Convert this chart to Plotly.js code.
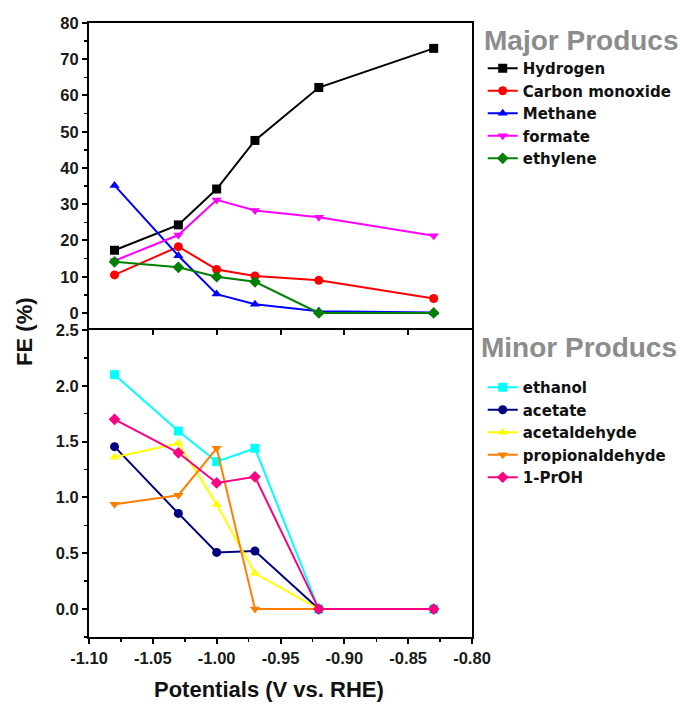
<!DOCTYPE html>
<html><head><meta charset="utf-8">
<script src="https://cdn.plot.ly/plotly-3.0.1.min.js"></script>
<style>body{margin:0;background:#fff}#chart{width:680px;height:706px}</style>
</head><body><div id="chart"></div>
<script>
const potentials = [-1.08, -1.03, -1.00, -0.97, -0.92, -0.83];

const majorNames = ['Hydrogen', 'Carbon monoxide', 'Methane', 'formate', 'ethylene'];
const hydrogen = [17.3, 24.3, 34.2, 47.6, 62.2, 73.0];
const carbonMonoxide = [10.5, 18.3, 12.0, 10.2, 9.0, 4.0];
const methane = [35.2, 15.8, 5.2, 2.4, 0.5, 0.1];
const formate = [14.4, 21.5, 31.2, 28.3, 26.4, 21.3];
const ethylene = [14.1, 12.6, 10.0, 8.6, 0.0, 0.0];

const minorNames = ['ethanol', 'acetate', 'acetaldehyde', 'propionaldehyde', '1-PrOH'];
const ethanol = [2.10, 1.595, 1.32, 1.44, 0, 0];
const acetate = [1.455, 0.857, 0.508, 0.52, 0, 0];
const acetaldehyde = [1.36, 1.485, 0.938, 0.32, 0, 0];
const propionaldehyde = [0.94, 1.02, 1.44, 0, 0, 0];
const propanol = [1.70, 1.40, 1.13, 1.185, 0, 0];

const xTickVals = [-1.10, -1.05, -1.00, -0.95, -0.90, -0.85, -0.80];
const xTickText = ['-1.10', '-1.05', '-1.00', '-0.95', '-0.90', '-0.85', '-0.80'];
const majorTickVals = [0, 10, 20, 30, 40, 50, 60, 70, 80];
const minorTickVals = [0, 0.5, 1.0, 1.5, 2.0, 2.5];

const FONT = 'Liberation Sans, Arial, sans-serif';
const LEGFONT = 'DejaVu Sans, Liberation Sans, sans-serif';
const majorSeries = [hydrogen, carbonMonoxide, methane, formate, ethylene];
const majorColors = ['#000000', '#ff0000', '#0000ff', '#ff00ff', '#008000'];
const majorSymbols = ['square', 'circle', 'triangle-up', 'triangle-down', 'diamond'];
const minorSeries = [ethanol, acetate, acetaldehyde, propionaldehyde, propanol];
const minorColors = ['#00ffff', '#000080', '#ffff00', '#ff8000', '#ff0080'];
const minorSymbols = ['square', 'circle', 'triangle-up', 'triangle-down', 'diamond'];

const traces = [];
majorSeries.forEach((s, i) => traces.push({
  x: potentials, y: s, name: majorNames[i], type: 'scatter', mode: 'lines+markers',
  xaxis: 'x', yaxis: 'y', legend: 'legend',
  line: {color: majorColors[i], width: 2},
  marker: {color: majorColors[i], symbol: majorSymbols[i], size: 9}
}));
minorSeries.forEach((s, i) => traces.push({
  x: potentials, y: s, name: minorNames[i], type: 'scatter', mode: 'lines+markers',
  xaxis: 'x2', yaxis: 'y2', legend: 'legend2',
  line: {color: minorColors[i], width: 2},
  marker: {color: minorColors[i], symbol: minorSymbols[i], size: 9}
}));
traces.push({x: [-1.1], y: [0], xaxis: 'x3', yaxis: 'y2', mode: 'markers',
  marker: {opacity: 0}, showlegend: false, hoverinfo: 'skip'});

const split = 0.5;
const tickFont = {family: FONT, size: 16.5, color: '#1a1a1a', weight: 'bold'};
const legendFont = {family: LEGFONT, size: 15, color: '#111', weight: 'bold'};
const legTitleFont = {family: FONT, size: 28, color: '#8c8c8c', weight: 'bold'};
const axTitleFont = {family: FONT, size: 22, color: '#111', weight: 'bold'};

const layout = {
  width: 680, height: 706,
  margin: {l: 89, r: 208, t: 23, b: 69, autoexpand: false},
  paper_bgcolor: '#fff', plot_bgcolor: '#fff',
  font: {family: FONT},
  showlegend: true,
  xaxis: {
    domain: [0, 1], anchor: 'y', side: 'top', range: [-1.10, -0.80],
    showticklabels: false, ticks: '', showgrid: false, zeroline: false,
    showline: true, linecolor: '#000', linewidth: 2, mirror: false
  },
  yaxis: {
    domain: [split, 1], anchor: 'x', range: [-4.7, 80],
    tickvals: majorTickVals,
    ticks: 'outside', ticklen: 5, tickwidth: 2, tickcolor: '#000',
    minor: {dtick: 5, tick0: 0, ticks: 'outside', ticklen: 3, tickwidth: 1.5, tickcolor: '#000', showgrid: false},
    showgrid: false, zeroline: false,
    showline: true, linecolor: '#000', linewidth: 2, mirror: true,
    tickfont: tickFont
  },
  xaxis2: {
    domain: [0, 1], anchor: 'y2', range: [-1.10, -0.80],
    tickvals: xTickVals, ticktext: xTickText,
    ticks: 'outside', ticklen: 5, tickwidth: 2, tickcolor: '#000',
    minor: {dtick: 0.025, tick0: -1.1, ticks: 'outside', ticklen: 3, tickwidth: 1.5, tickcolor: '#000', showgrid: false},
    showgrid: false, zeroline: false,
    showline: true, linecolor: '#000', linewidth: 2, mirror: true,
    tickfont: tickFont
  },
  xaxis3: {
    overlaying: 'x2', anchor: 'y2', side: 'top', range: [-1.10, -0.80],
    tickvals: xTickVals, showticklabels: false,
    ticks: 'inside', ticklen: 5, tickwidth: 2, tickcolor: '#000',
    showgrid: false, zeroline: false, showline: false
  },
  yaxis2: {
    domain: [0, split], anchor: 'x2', range: [-0.25, 2.5],
    tickvals: minorTickVals, tickformat: '.1f',
    ticks: 'outside', ticklen: 5, tickwidth: 2, tickcolor: '#000',
    minor: {dtick: 0.25, tick0: 0, ticks: 'outside', ticklen: 3, tickwidth: 1.5, tickcolor: '#000', showgrid: false},
    showgrid: false, zeroline: false,
    showline: true, linecolor: '#000', linewidth: 2, mirror: true,
    tickfont: tickFont
  },
  legend: {
    x: 1.028, xanchor: 'left', y: 0.9527, yanchor: 'top',
    bgcolor: 'rgba(0,0,0,0)', borderwidth: 0,
    font: legendFont, itemwidth: 30
  },
  legend2: {
    x: 1.028, xanchor: 'left', y: 0.4332, yanchor: 'top',
    bgcolor: 'rgba(0,0,0,0)', borderwidth: 0,
    font: legendFont, itemwidth: 30
  },
  annotations: [
    {text: 'FE (%)', xref: 'paper', yref: 'paper', x: -0.167, y: 0.497,
     xanchor: 'center', yanchor: 'middle', textangle: -90, showarrow: false, font: axTitleFont},
    {text: 'Potentials (V vs. RHE)', xref: 'paper', yref: 'paper', x: 0.47, y: -0.0863,
     xanchor: 'center', yanchor: 'middle', showarrow: false, font: axTitleFont},
    {text: 'Major Producs', xref: 'paper', yref: 'paper', x: 1.2846, y: 0.9723,
     xanchor: 'center', yanchor: 'middle', showarrow: false, font: legTitleFont},
    {text: 'Minor Producs', xref: 'paper', yref: 'paper', x: 1.2794, y: 0.4707,
     xanchor: 'center', yanchor: 'middle', showarrow: false, font: legTitleFont}
  ]
};

Plotly.newPlot('chart', traces, layout, {displayModeBar: false, staticPlot: true});
</script></body></html>
